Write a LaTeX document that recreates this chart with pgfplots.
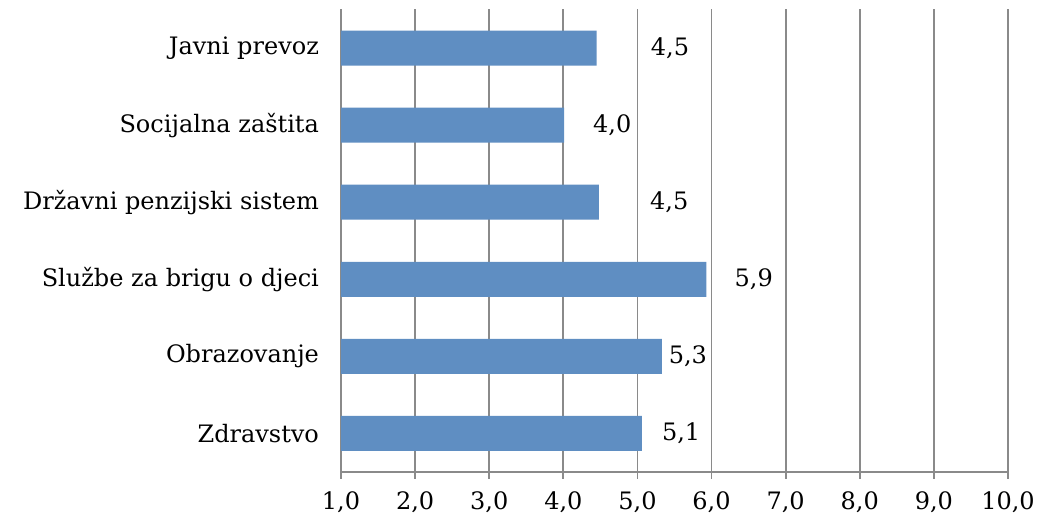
\documentclass[border=0pt]{standalone}
\usepackage{pgfplots}
\pgfplotsset{compat=1.18}
\usepackage{fontspec}
\setmainfont{DejaVu Serif}
\usetikzlibrary{calc}
\definecolor{barblue}{RGB}{95,142,194}
\definecolor{gridgray}{RGB}{138,138,138}
\begin{document}
\begin{tikzpicture}
\begin{axis}[
  scale only axis,
  width=333.5pt, height=231.25pt,
  xmin=1, xmax=10, ymin=-0.5, ymax=5.5,
  axis x line*=bottom, axis y line*=left,
  axis line style={gridgray, line width=0.9pt, -},
  xmajorgrids,
  major grid style={gridgray, line width=0.9pt},
  xtick={1,2,...,10},
  xticklabels={{1,0},{2,0},{3,0},{4,0},{5,0},{6,0},{7,0},{8,0},{9,0},{10,0}},
  tick align=outside,
  major tick length=3.5pt,
  xtick style={gridgray, line width=0.9pt},
  ytick={0,1,2,3,4,5},
  yticklabels={Zdravstvo,Obrazovanje,{Službe za brigu o djeci},{Državni penzijski sistem},{Socijalna zaštita},{Javni prevoz}},
  ytick style={draw=none},
  ticklabel style={font=\fontsize{12}{14}\selectfont},
  yticklabel style={xshift=-4pt},
  xticklabel style={yshift=-3pt},
]
% bars
\addplot[xbar, bar width=17.5pt, fill=barblue, draw=none] coordinates {
  (5.06,0) (5.33,1) (5.93,2) (4.48,3) (4.01,4) (4.45,5)
};
% data labels, placed as in the reference
\addplot[draw=none, mark=none, nodes near coords, point meta=explicit symbolic,
  every node near coord/.style={anchor=center, font=\fontsize{12}{14}\selectfont}]
  table[meta=lab] {
x y lab
5.59 0 5,1
5.68 1 5,3
6.57 2 5,9
5.43 3 4,5
4.66 4 4,0
5.44 5 4,5
};
\coordinate (sw) at (rel axis cs:0,0);
\coordinate (ne) at (rel axis cs:1,1);
\end{axis}
\pgfresetboundingbox
\path ($(sw)+(-170.5pt,-24.5pt)$) rectangle ($(ne)+(15pt,4.75pt)$);
\end{tikzpicture}
\end{document}
